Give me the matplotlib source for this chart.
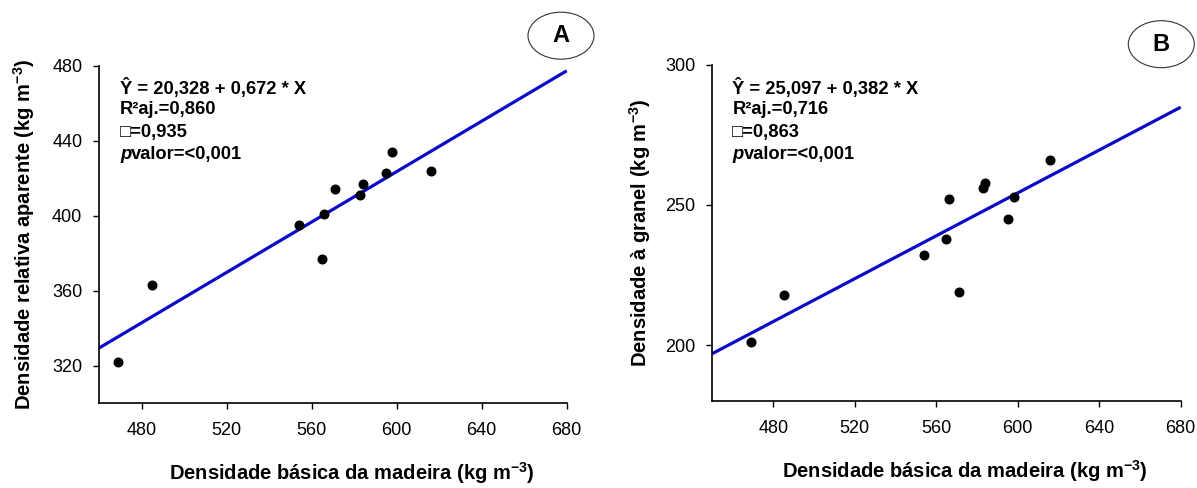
import matplotlib
matplotlib.use("Agg")
import matplotlib.pyplot as plt
from matplotlib.patches import Ellipse
import numpy as np

plt.rcParams['font.family'] = ['Liberation Sans', 'DejaVu Sans']
plt.rcParams['mathtext.fontset'] = 'custom'
plt.rcParams['mathtext.rm'] = 'Liberation Sans:bold'
plt.rcParams['mathtext.bf'] = 'Liberation Sans:bold'
plt.rcParams['mathtext.it'] = 'Liberation Sans:italic:bold'
plt.rcParams['mathtext.default'] = 'rm'

# Data
densidade_basica = [469, 485, 554, 565, 566, 571, 583, 584, 595, 598, 616]
dens_relativa_aparente = [322, 363, 395, 377, 401, 414, 411, 417, 423, 434, 424]
dens_granel = [201, 218, 232, 238, 252, 219, 256, 258, 245, 253, 266]

coefA = (20.328, 0.672)
coefB = (25.097, 0.382)

statsA = ["Ŷ = 20,328 + 0,672 * X", "R²aj.=0,860", "□=0,935", "valor=<0,001"]
statsB = ["Ŷ = 25,097 + 0,382 * X", "R²aj.=0,716", "□=0,863", "valor=<0,001"]

xticks = [480, 520, 560, 600, 640, 680]
yticksA = [320, 360, 400, 440, 480]
yticksB = [200, 250, 300]

xlabel = "Densidade básica da madeira (kg m$^{-3}$)"
ylabelA = "Densidade relativa aparente (kg m$^{-3}$)"
ylabelB = "Densidade à granel (kg m$^{-3}$)"

W, H = 1197, 488
fig = plt.figure(figsize=(W / 100, H / 100), dpi=100)

def px_axes(l, r, t, b):
    return fig.add_axes([l / W, 1 - b / H, (r - l) / W, (b - t) / H])

axA = px_axes(99, 566.7, 65.7, 403.3)
axB = px_axes(712.3, 1180.7, 64.7, 401.3)

line_color = '#0a0ac8'
STAT_FS = 13.2
LABEL_FS = 14.5
TICK_FS = 13

def style(ax, xlim, ylim, yticks, ylabel, ylab_x, stats, text_left, coef,
          xdata, ydata, letter, ell_center):
    ax.set_xlim(*xlim)
    ax.set_ylim(*ylim)
    for s in ['top', 'right']:
        ax.spines[s].set_visible(False)
    ax.spines['left'].set_bounds(ylim[0], yticks[-1])
    ax.spines['bottom'].set_bounds(xlim[0], 680)
    for s in ['left', 'bottom']:
        ax.spines[s].set_linewidth(1.2)
    ax.set_xticks(xticks)
    ax.set_xticklabels([str(v) for v in xticks])
    ax.set_yticks(yticks)
    ax.set_yticklabels([str(v) for v in yticks])
    ax.tick_params(axis='x', length=4, width=1, pad=9.5, labelsize=TICK_FS)
    ax.tick_params(axis='y', length=4, width=1, pad=8, labelsize=TICK_FS)

    xs = np.array(xlim, dtype=float)
    ax.plot(xs, coef[0] + coef[1] * xs, color=line_color, lw=2.3, zorder=2,
            solid_capstyle='butt', clip_on=False)
    ax.plot(xdata, ydata, 'o', color='black', markersize=6.2, zorder=3, clip_on=False)

    ax.set_xlabel(xlabel, fontsize=LABEL_FS, fontweight='bold')
    ax.xaxis.set_label_coords(0.54, -0.206)
    ax.xaxis.label.set_verticalalignment('center')
    ax.set_ylabel(ylabel, fontsize=LABEL_FS, fontweight='bold')
    ax.yaxis.set_label_coords(ylab_x, 0.5)
    ax.yaxis.label.set_verticalalignment('center')

    y0 = 87.7
    for i, s in enumerate(stats):
        yy = 1 - (y0 + i * 22.3) / H
        if i == 3:
            t = fig.text(text_left / W, yy, "p", fontsize=STAT_FS, fontweight='bold',
                         style='italic', va='center', ha='left')
            ax.annotate(s, xy=(1, 0.5), xycoords=t, va='center', ha='left',
                        fontsize=STAT_FS, fontweight='bold', annotation_clip=False)
        else:
            fig.text(text_left / W, yy, s, fontsize=STAT_FS, fontweight='bold',
                     va='center', ha='left')

    cx, cy = ell_center
    e = Ellipse((cx / W, 1 - cy / H), 66 / W, 47 / H, transform=fig.transFigure,
                facecolor='white', edgecolor='#333333', lw=0.8)
    fig.add_artist(e)
    fig.text(cx / W, 1 - cy / H, letter, fontsize=17, fontweight='bold',
             ha='center', va='center')

style(axA, (460, 680), (300, 480), yticksA, ylabelA, -0.16, statsA, 120, coefA,
      densidade_basica, dens_relativa_aparente, 'A', (561, 35.7))
style(axB, (450, 680), (180, 300), yticksB, ylabelB, -0.154, statsB, 732.3, coefB,
      densidade_basica, dens_granel, 'B', (1161.3, 44.2))

fig.savefig("out.png", dpi=100)
